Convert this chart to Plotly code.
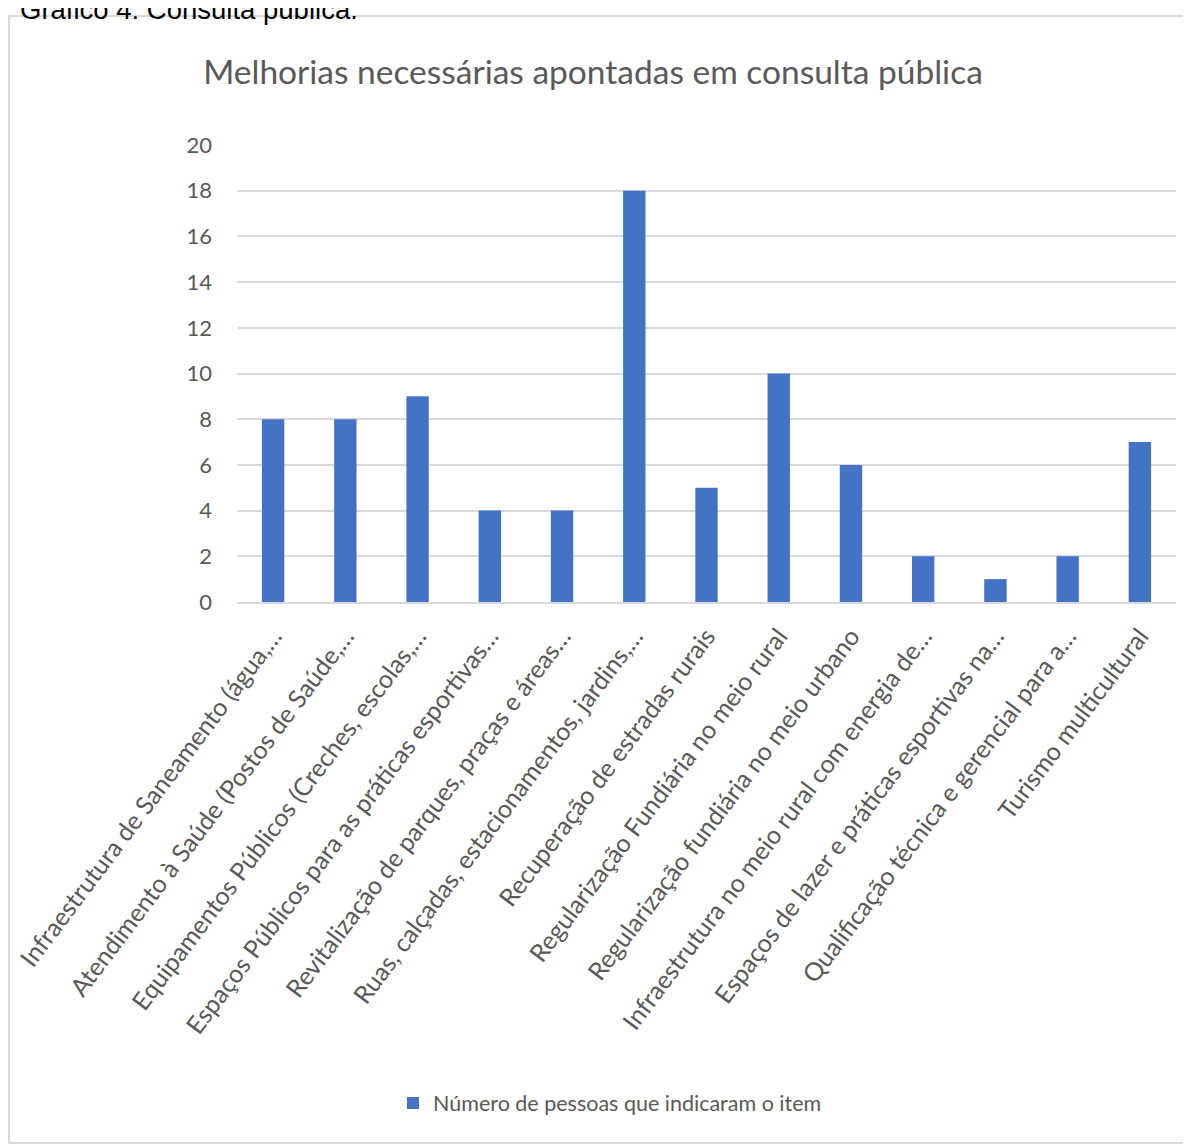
import plotly.graph_objects as go

categories = [
    "Infraestrutura de Saneamento (água,…",
    "Atendimento à Saúde (Postos de Saúde,…",
    "Equipamentos Públicos (Creches, escolas,…",
    "Espaços Públicos para as práticas esportivas…",
    "Revitalização de parques, praças e áreas…",
    "Ruas, calçadas, estacionamentos, jardins,…",
    "Recuperação de estradas rurais",
    "Regularização Fundiária no meio rural",
    "Regularização fundiária no meio urbano",
    "Infraestrutura no meio rural com energia de…",
    "Espaços de lazer e práticas esportivas na…",
    "Qualificação técnica e gerencial para a…",
    "Turismo multicultural",
]
values = [8, 8, 9, 4, 4, 18, 5, 10, 6, 2, 1, 2, 7]
y_ticks = [0, 2, 4, 6, 8, 10, 12, 14, 16, 18, 20]
series_name = "Número de pessoas que indicaram o item"
chart_title = "Melhorias necessárias apontadas em consulta pública"
header = "Gráfico 4: Consulta pública."

FONT = "Lato, Open Sans, sans-serif"
GREY = "#595959"

OFF = 8  # page body margin
W, H = 1191, 1145
# target pixel positions in the page
PL, PR, PT, PB = 237, 1176, 145, 602
L = PL - OFF
R = W - (PR - OFF)
T = PT - OFF
B = H - (PB - OFF)
pw, ph = W - L - R, H - T - B


def px_x(p):
    return (p - OFF - L) / pw


def px_y(p):
    return 1 - (p - OFF - T) / ph


fig = go.Figure(
    go.Bar(
        x=categories,
        y=values,
        name=series_name,
        marker=dict(color="#4472C4", line=dict(width=0)),
        showlegend=True,
    )
)

fig.update_layout(
    width=W,
    height=H,
    margin=dict(l=L, r=R, t=T, b=B, autoexpand=False),
    paper_bgcolor="white",
    plot_bgcolor="white",
    bargap=0.69,
    font=dict(family=FONT, color=GREY),
    title=dict(
        text=chart_title,
        x=(593 - OFF) / W,
        xanchor="center",
        y=1 - (72 - OFF) / H,
        yanchor="middle",
        xref="container",
        yref="container",
        font=dict(family=FONT, size=33.5, color=GREY),
    ),
    showlegend=True,
    legend=dict(
        orientation="h",
        x=px_x(610),
        xanchor="center",
        y=px_y(1103),
        yanchor="middle",
        font=dict(family=FONT, size=21.5, color=GREY),
        bgcolor="rgba(0,0,0,0)",
    ),
    xaxis=dict(
        tickangle=-53,
        tickfont=dict(family=FONT, size=25, color=GREY),
        showgrid=False,
        showline=True,
        linecolor="#d9d9d9",
        linewidth=1.5,
        ticks="",
        ticklabelstandoff=8,
        automargin=False,
    ),
    yaxis=dict(
        range=[0, 20],
        tickvals=y_ticks,
        tickfont=dict(family=FONT, size=22, color=GREY),
        showgrid=True,
        gridcolor="#d9d9d9",
        gridwidth=1.5,
        zeroline=False,
        showline=False,
        ticks="",
        ticklabelstandoff=24,
        automargin=False,
    ),
    shapes=[
        dict(
            type="rect",
            xref="paper",
            yref="paper",
            x0=px_x(9),
            x1=px_x(1215),
            y0=px_y(1143),
            y1=px_y(16),
            line=dict(color="#d9d9d9", width=2),
            fillcolor="rgba(0,0,0,0)",
            layer="below",
        )
    ],
    annotations=[
        dict(
            text=header,
            xref="paper",
            yref="paper",
            x=px_x(18),
            xanchor="left",
            y=px_y(27),
            yanchor="bottom",
            showarrow=False,
            font=dict(family="Liberation Sans, Arial, sans-serif", size=27.5, color="black"),
        )
    ],
)

fig.write_html("out.html")
